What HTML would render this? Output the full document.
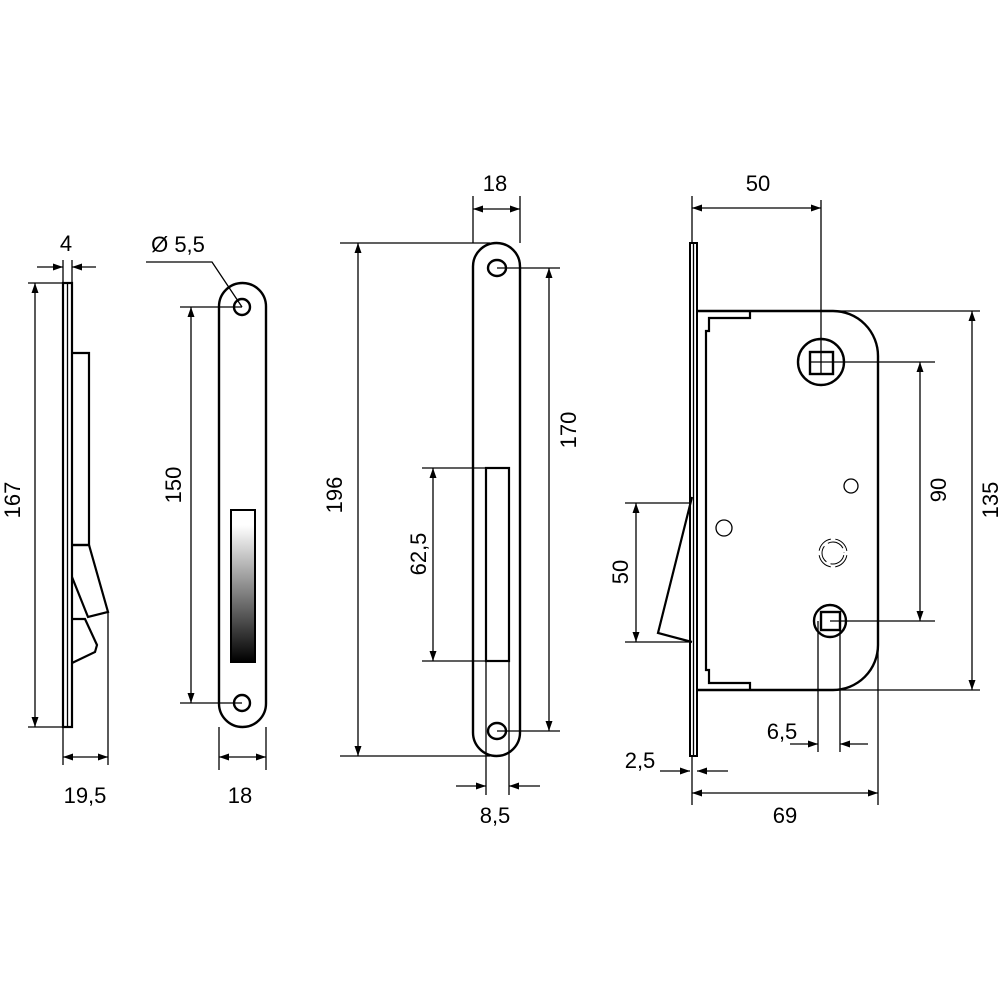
<!DOCTYPE html>
<html><head><meta charset="utf-8"><style>html,body{margin:0;padding:0;background:#fff}svg{display:block}</style></head>
<body>
<svg width="1000" height="1000" viewBox="0 0 1000 1000" xmlns="http://www.w3.org/2000/svg" font-family="Liberation Sans, sans-serif" font-size="22" fill="none" stroke="#000">
<defs>
<marker id="a" viewBox="0 0 10 10" refX="10" refY="5" markerWidth="10" markerHeight="10" markerUnits="userSpaceOnUse" orient="auto-start-reverse"><path d="M0,1.5 L10,5 L0,8.5z" fill="#000" stroke="none"/></marker>
<linearGradient id="g" x1="0" y1="0" x2="0" y2="1"><stop offset="0.1" stop-color="#fff"/><stop offset="1" stop-color="#000"/></linearGradient>
</defs>
<g stroke-width="1.3">
<!-- View 1 -->
<rect x="63" y="283" width="9" height="444" stroke-width="2.2"/>
<line x1="67.5" y1="283" x2="67.5" y2="727"/>
<path d="M72,353 H89 V545 H72" stroke-width="2.2"/>
<path d="M72,545 H89 L108,612 L88,617 L72,577" stroke-width="2.2"/>
<path d="M72,619 H85 L97,645 L95,652 L72,663" stroke-width="2.2"/>
<line x1="28" y1="283" x2="63" y2="283"/><line x1="28" y1="727" x2="63" y2="727"/>
<line x1="35" y1="283" x2="35" y2="727" marker-start="url(#a)" marker-end="url(#a)"/>
<line x1="63" y1="260" x2="63" y2="283"/><line x1="72" y1="260" x2="72" y2="283"/>
<line x1="37" y1="267" x2="63" y2="267" marker-end="url(#a)"/><line x1="96" y1="267" x2="72" y2="267" marker-end="url(#a)"/>
<line x1="63" y1="727" x2="63" y2="765"/><line x1="108" y1="612" x2="108" y2="765"/>
<line x1="63" y1="757" x2="108" y2="757" marker-start="url(#a)" marker-end="url(#a)"/>
<!-- View 2 -->
<rect x="219" y="283" width="47" height="444" rx="23.5" stroke-width="2.4"/>
<circle cx="242" cy="307" r="8" stroke-width="2.4"/><circle cx="242" cy="703" r="8" stroke-width="2.4"/>
<rect x="231" y="510" width="24" height="152" fill="url(#g)" stroke-width="2"/>
<line x1="180" y1="307" x2="242" y2="307"/><line x1="180" y1="703" x2="242" y2="703"/>
<line x1="191" y1="307" x2="191" y2="703" marker-start="url(#a)" marker-end="url(#a)"/>
<polyline points="146,262 212,262 242,307"/>
<line x1="219" y1="727" x2="219" y2="770"/><line x1="266" y1="727" x2="266" y2="770"/>
<line x1="219" y1="757" x2="266" y2="757" marker-start="url(#a)" marker-end="url(#a)"/>
<!-- View 3 -->
<rect x="473" y="243" width="47" height="513" rx="23.5" stroke-width="2.4"/>
<ellipse cx="497" cy="268" rx="9" ry="8" stroke-width="2.4"/><ellipse cx="497" cy="731" rx="9" ry="8" stroke-width="2.4"/>
<rect x="486" y="468" width="23" height="193" stroke-width="2.2"/>
<line x1="473" y1="196" x2="473" y2="243"/><line x1="520" y1="196" x2="520" y2="243"/>
<line x1="473" y1="209" x2="520" y2="209" marker-start="url(#a)" marker-end="url(#a)"/>
<line x1="340" y1="243" x2="490" y2="243"/><line x1="340" y1="756" x2="490" y2="756"/>
<line x1="358" y1="243" x2="358" y2="756" marker-start="url(#a)" marker-end="url(#a)"/>
<line x1="497" y1="268" x2="560" y2="268"/><line x1="497" y1="731" x2="560" y2="731"/>
<line x1="549" y1="268" x2="549" y2="731" marker-start="url(#a)" marker-end="url(#a)"/>
<line x1="422" y1="468" x2="486" y2="468"/><line x1="422" y1="661" x2="486" y2="661"/>
<line x1="433" y1="468" x2="433" y2="661" marker-start="url(#a)" marker-end="url(#a)"/>
<line x1="486" y1="661" x2="486" y2="795"/><line x1="509" y1="661" x2="509" y2="795"/>
<line x1="456" y1="786" x2="486" y2="786" marker-end="url(#a)"/><line x1="540" y1="786" x2="509" y2="786" marker-end="url(#a)"/>
<!-- View 4 -->
<rect x="690" y="243" width="7" height="513" stroke-width="2"/>
<line x1="693.5" y1="243" x2="693.5" y2="756"/>
<path d="M697,311 H833 A45,45 0 0 1 878,356 V645 A45,45 0 0 1 833,690 H697" stroke-width="2.4"/>
<path d="M750,311 V318 H709 V331 H706 V670 H709 V683 H750 V690" stroke-width="2.2"/>
<circle cx="821" cy="362" r="23" stroke-width="2.4"/><rect x="810" y="352" width="23" height="22" stroke-width="2.4"/>
<circle cx="830" cy="621" r="16" stroke-width="2.4"/><rect x="821" y="612" width="19" height="18" stroke-width="2.4"/>
<circle cx="851" cy="486" r="7"/><circle cx="724" cy="528" r="8"/>
<g stroke-width="1" stroke-dasharray="17.5 4.5" stroke-dashoffset="-2.2">
<circle cx="833" cy="553" r="14"/><circle cx="833" cy="553" r="11"/>
</g>
<path d="M692,497 L658,633 L692,642" stroke-width="2.2"/>
<line x1="692" y1="196" x2="692" y2="243"/><line x1="821" y1="200" x2="821" y2="374"/>
<line x1="692" y1="208" x2="821" y2="208" marker-start="url(#a)" marker-end="url(#a)"/>
<line x1="835" y1="311" x2="980" y2="311"/><line x1="835" y1="690" x2="980" y2="690"/>
<line x1="972" y1="311" x2="972" y2="690" marker-start="url(#a)" marker-end="url(#a)"/>
<line x1="810" y1="362" x2="935" y2="362"/><line x1="830" y1="621" x2="935" y2="621"/>
<line x1="920" y1="362" x2="920" y2="621" marker-start="url(#a)" marker-end="url(#a)"/>
<line x1="625" y1="503" x2="690" y2="503"/><line x1="625" y1="642" x2="690" y2="642"/>
<line x1="636" y1="503" x2="636" y2="642" marker-start="url(#a)" marker-end="url(#a)"/>
<line x1="818" y1="621" x2="818" y2="752"/><line x1="840" y1="621" x2="840" y2="752"/>
<line x1="790" y1="744" x2="818" y2="744" marker-end="url(#a)"/><line x1="868" y1="744" x2="840" y2="744" marker-end="url(#a)"/>
<line x1="660" y1="771" x2="690" y2="771" marker-end="url(#a)"/><line x1="728" y1="771" x2="697" y2="771" marker-end="url(#a)"/>
<line x1="692" y1="756" x2="692" y2="805"/><line x1="878" y1="645" x2="878" y2="805"/>
<line x1="692" y1="793" x2="878" y2="793" marker-start="url(#a)" marker-end="url(#a)"/>
</g>
<g fill="#000" stroke="none" text-anchor="middle">
<text x="66" y="251">4</text>
<text transform="translate(20,500) rotate(-90)">167</text>
<text x="85" y="803">19,5</text>
<text x="178" y="252">Ø 5,5</text>
<text transform="translate(181,485) rotate(-90)">150</text>
<text x="240" y="803">18</text>
<text x="495" y="191">18</text>
<text transform="translate(342,495) rotate(-90)">196</text>
<text transform="translate(576,430) rotate(-90)">170</text>
<text transform="translate(426,554) rotate(-90)">62,5</text>
<text x="495" y="823">8,5</text>
<text x="758" y="191">50</text>
<text transform="translate(998,500) rotate(-90)">135</text>
<text transform="translate(946,490) rotate(-90)">90</text>
<text transform="translate(628,572) rotate(-90)">50</text>
<text x="782" y="739">6,5</text>
<text x="640" y="768">2,5</text>
<text x="785" y="823">69</text>
</g>
</svg>
</body></html>
